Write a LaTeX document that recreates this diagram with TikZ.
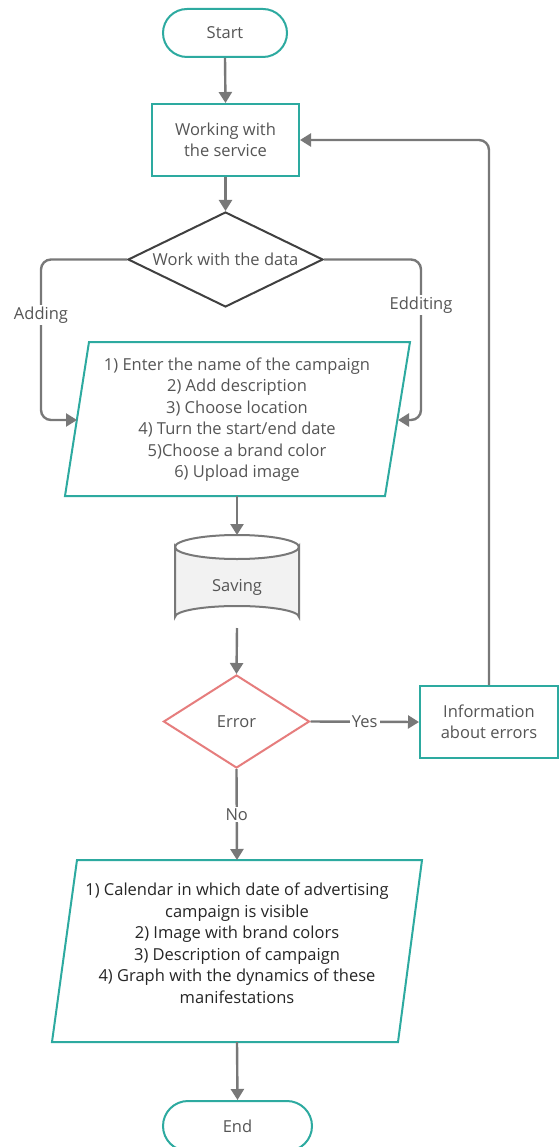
\documentclass[tikz,border=0pt]{standalone}
\usepackage{fontspec}
\setmainfont{Open Sans}
\usetikzlibrary{arrows.meta,shapes.geometric}
\definecolor{teal1}{RGB}{45,170,160}
\definecolor{conng}{RGB}{120,120,120}
\definecolor{txtg}{RGB}{85,85,85}
\definecolor{errc}{RGB}{230,125,125}
\definecolor{cylf}{RGB}{242,242,242}
\tikzset{
  every node/.style={font=\fontsize{16.5}{21.5}\selectfont, text=txtg, align=center},
  conn/.style={draw=conng, line width=2.4pt, -{Triangle[length=11pt,width=13pt]}},
  term/.style={draw=teal1, line width=2pt, rounded corners=24pt, minimum height=48pt, fill=white},
  procbox/.style={draw=teal1, line width=2pt, fill=white, inner sep=0pt},
  lbl/.style={fill=white, inner sep=2pt},
}
\begin{document}
\begin{tikzpicture}[x=1pt,y=-1pt]
\useasboundingbox[fill=white] (0,0) rectangle (558,1147);
% nodes
\node[term, minimum width=124pt] (start) at (225,33) {Start};
\node[procbox, minimum width=147pt, minimum height=72pt] (work) at (225.5,140) {Working with\\the service};
\node[diamond, draw=black!75, line width=2pt, inner sep=0pt, minimum width=195pt, minimum height=95pt, aspect=2.05] (data) at (225.5,259.5) {Work with the data};
% parallelogram 1
\draw[draw=teal1, line width=2pt, fill=white] (89,342) -- (410,342) -- (385,496) -- (65,496) -- cycle;
\node (p1) at (237,419.5) {1) Enter the name of the campaign\\2) Add description\\3) Choose location\\4) Turn the start/end date\\5)Choose a brand color\\6) Upload image};
\coordinate (p1top) at (237,342);
\coordinate (p1bot) at (237,496);
\coordinate (p1l) at (77,420);
\coordinate (p1r) at (398,420);
\coordinate (lcorner) at (41,420);
\coordinate (rcorner) at (421,420);
% cylinder
\draw[draw=conng, line width=2pt, fill=cylf] (175,547) -- (175,617) arc[start angle=180, end angle=360, x radius=62, y radius=11] -- (299,547) arc[start angle=0, end angle=180, x radius=62, y radius=12] -- cycle;
\draw[draw=conng, line width=2pt] (175,547) arc[start angle=180, end angle=360, x radius=62, y radius=12];
\node (save) at (237,587) {Saving};
\coordinate (savetop) at (237,535);
\coordinate (savebot) at (237,628);
% error
\node[diamond, draw=errc, line width=2pt, inner sep=0pt, minimum width=146pt, minimum height=93pt, aspect=1.57] (err) at (236.5,721.5) {Error};
\node[procbox, minimum width=138pt, minimum height=72pt] (info) at (489,722) {Information\\about errors};
% parallelogram 2
\draw[draw=teal1, line width=2pt, fill=white] (77,860) -- (422,860) -- (398,1042) -- (52,1042) -- cycle;
\node[text=black!85] (p2) at (237,943.5) {1) Calendar in which date of advertising\\campaign is visible\\2) Image with brand colors\\3) Description of campaign\\4) Graph with the dynamics of these\\manifestations};
\coordinate (p2top) at (237,860);
\coordinate (p2bot) at (237,1042);
\node[term, minimum width=149pt, minimum height=50pt, rounded corners=25pt] (end) at (237.5,1126) {End};
% connectors
\draw[conn] (start.south) -- (work.north);
\draw[conn] (work.south) -- (data.north);
\draw[conn, rounded corners=10pt] (data.west) -| (lcorner) -- (p1l);
\draw[conn, rounded corners=10pt] (data.east) -| (rcorner) -- (p1r);
\node[lbl] (adding) at (41,315) {Adding};
\node[lbl] (edit) at (421,305) {Edditing};
\draw[conn] (p1bot) -- (savetop);
\draw[conn] (savebot) -- (err.north);
\draw[conn] (err.east) -- (info.west) node[lbl, midway] (yes) {Yes};
\draw[conn, rounded corners=10pt] (info.north) |- (work.east);
\draw[conn] (err.south) -- (p2top) node[lbl, pos=0.5] (no) {No};
\draw[conn] (p2bot) -- (end.north);
\end{tikzpicture}
\end{document}
